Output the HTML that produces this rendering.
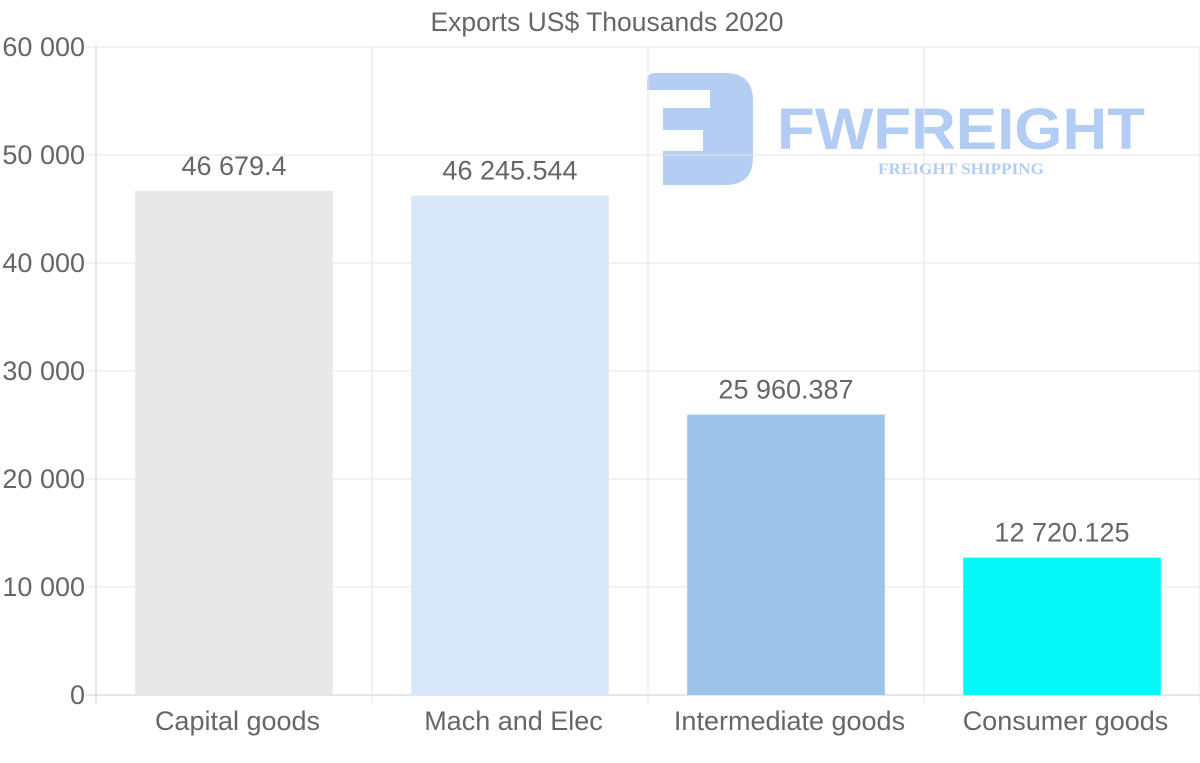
<!DOCTYPE html>
<html><head><meta charset="utf-8"><style>
html,body{margin:0;padding:0;background:#fff;}
svg{display:block;font-family:"Liberation Sans",sans-serif;}
</style></head><body>
<svg id="chart" width="1200" height="763">
<g opacity="0.5">
<path d="M655 73 H725 Q753 73 753 101 V157 Q753 185 725 185 H663 V151 H703 V130 H663 V108 H710 V90 H647 V81 Q647 73 655 73 Z" fill="#6a9be8"/>
<text x="777" y="149" font-size="58" font-weight="bold" fill="#6a9be8" textLength="368" lengthAdjust="spacingAndGlyphs">FWFREIGHT</text>
<text x="878" y="174" font-family="Liberation Serif" font-size="16" font-weight="bold" fill="#6a9be8" textLength="166" lengthAdjust="spacingAndGlyphs">FREIGHT SHIPPING</text>
</g>
<g id="grid"></g><g id="bars"></g><g id="labels"></g>
<text x="607" y="31" text-anchor="middle" font-size="26.5" fill="#666">Exports US$ Thousands 2020</text>
</svg>
<script>
const categories=["Capital goods","Mach and Elec","Intermediate goods","Consumer goods"];
const values=[46679.4,46245.544,25960.387,12720.125];
const valueLabels=["46 679.4","46 245.544","25 960.387","12 720.125"];
const yTicks=[0,10000,20000,30000,40000,50000,60000];
const yTickLabels=["0","10 000","20 000","30 000","40 000","50 000","60 000"];
const colors=["#e8e8e8","#d8e8f9","#9cc4e8","#05f8f8"];
const NS="http://www.w3.org/2000/svg";
const L=96,R=1200,T=47,B=695,yMax=60000;
const y=v=>B-(v/yMax)*(B-T);
const bw=(R-L)/categories.length;
const x=i=>L+bw*i+bw/2;
function mk(tag,attrs,parent,text){const e=document.createElementNS(NS,tag);for(const k in attrs)e.setAttribute(k,attrs[k]);if(text!=null)e.textContent=text;parent.appendChild(e);return e;}
const grid=document.getElementById('grid'),bars=document.getElementById('bars'),labels=document.getElementById('labels');
yTicks.forEach((t,i)=>{
 const ln=mk('line',{x1:L-10,x2:R,y1:y(t),y2:y(t),stroke:i===0?'#ccc':'#e6e6e6','stroke-width':1},grid);
 
 
 const tx=mk('text',{x:85,y:y(t)+9,'text-anchor':'end','font-size':27,fill:'#666'},labels,yTickLabels[i]);
 
 
});
for(let i=0;i<=categories.length;i++){
 const ln=mk('line',{x1:L+bw*i,x2:L+bw*i,y1:T,y2:B+8,stroke:i===0?'#ccc':'#e6e6e6','stroke-width':1},grid);
 
 
}
categories.forEach((c,i)=>{
 const w=bw*0.716;
 const r=mk('rect',{x:x(i)-w/2,y:y(values[i]),width:w,height:B-y(values[i]),fill:colors[i]},bars);
 
 
 const vl=mk('text',{x:x(i),y:y(values[i])-16,'text-anchor':'middle','font-size':27,fill:'#666'},labels,valueLabels[i]);
 
 
 const cl=mk('text',{x:x(i)+3.5,y:730,'text-anchor':'middle','font-size':27,fill:'#666'},labels,c);
 
 
});
</script>
</body></html>
